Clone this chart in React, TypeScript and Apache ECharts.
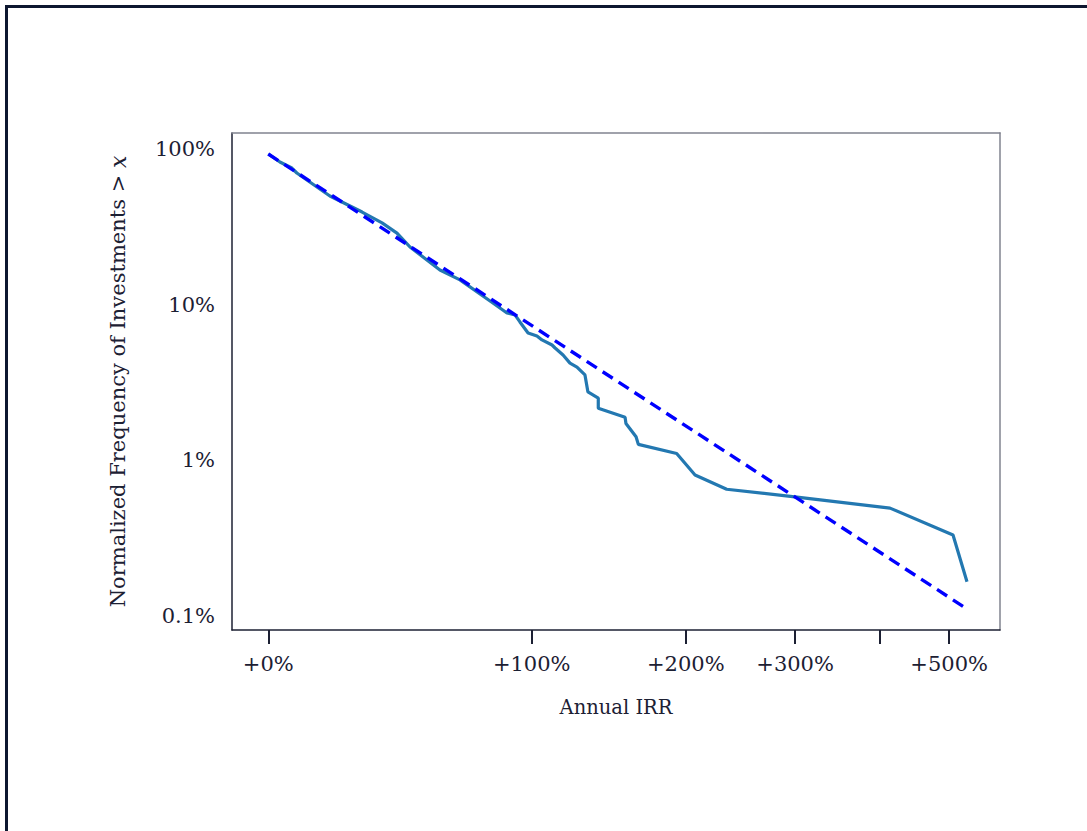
import React, { useEffect, useRef } from "react";
import * as echarts from "echarts";

// Annual IRR (%) and normalized frequency of investments exceeding it (%)
const irrPct = [0, 3.1, 6.4, 7.8, 17.6, 28.0, 34.9, 40.3, 45.2, 57.1, 65.6, 80.6, 87.4, 91.4, 93.9, 98.1, 102.8, 105.5, 111.0, 112.7, 117.2, 121.2, 125.3, 130.1, 131.9, 138.3, 138.3, 155.7, 156.3, 163.2, 164.8, 192.9, 207.4, 234.1, 302.0, 413.5, 506.1, 528.8];
const freqPct = [93.6, 83.1, 76.0, 70.6, 50.2, 39.6, 33.7, 29.0, 23.6, 16.8, 14.5, 10.3, 8.89, 8.63, 7.78, 6.61, 6.32, 5.96, 5.53, 5.29, 4.77, 4.23, 3.99, 3.55, 2.76, 2.52, 2.17, 1.90, 1.73, 1.42, 1.27, 1.11, 0.806, 0.653, 0.582, 0.494, 0.332, 0.166];

// Power-law fit (dashed)
const fitIrrPct = [0, 528.8];
const fitFreqPct = [93.5, 0.111];

// Tick positions
const xTickIrrPct = [0, 100, 200, 300, 400, 500];
const xLabelIrrPct = [0, 100, 200, 300, 500];
const yTickFreqPct = [100, 10, 1, 0.1];

const tx = (r: number) => Math.log(1 + r / 100);
const ty = (f: number) => Math.log10(f / 100);

const TEXT = "#1c2033";
const FONT = "DejaVu Serif";

export default function App() {
  const ref = useRef<HTMLDivElement>(null);
  useEffect(() => {
    if (!ref.current) return;
    const chart = echarts.init(ref.current, undefined, { renderer: "svg" });
    const xmin = -0.0955, xmax = 1.9255, ymin = -3.09, ymax = 0.106;
    const fmtPct = (v: number) => {
      const p = parseFloat((Math.pow(10, v) * 100).toPrecision(3));
      return p + "%";
    };
    chart.setOption({
      animation: false,
      backgroundColor: "#ffffff",
      graphic: [
        {
          type: "rect",
          shape: { x: 6.5, y: 6.5, width: 1200, height: 1000 },
          style: { fill: "none", stroke: "#0d1730", lineWidth: 3 },
          silent: true,
        },
      ],
      grid: { left: 232, top: 133, right: 87, bottom: 201, containLabel: false },
      xAxis: [
        {
          type: "value",
          min: xmin,
          max: xmax,
          name: "Annual IRR",
          nameLocation: "middle",
          nameGap: 67,
          nameTextStyle: { color: TEXT, fontFamily: FONT, fontSize: 19.5 },
          axisLine: { show: true, onZero: false, lineStyle: { color: TEXT, width: 1.5 } },
          axisTick: {
            show: true,
            length: 14,
            customValues: xTickIrrPct.map(tx),
            lineStyle: { color: TEXT, width: 2 },
          },
          axisLabel: {
            show: true,
            margin: 23,
            customValues: xLabelIrrPct.map(tx),
            formatter: (v: number) => "+" + Math.round((Math.exp(v) - 1) * 100) + "%",
            color: TEXT,
            fontFamily: FONT,
            fontSize: 21,
          },
          splitLine: { show: false },
        },
        {
          type: "value",
          position: "top",
          min: xmin,
          max: xmax,
          axisLine: { show: true, onZero: false, lineStyle: { color: "#80838f", width: 1.5 } },
          axisTick: { show: false },
          axisLabel: { show: false },
          splitLine: { show: false },
        },
      ],
      yAxis: [
        {
          type: "value",
          min: ymin,
          max: ymax,
          name: "Normalized Frequency of Investments > {i|x}",
          nameLocation: "middle",
          nameGap: 103,
          nameTextStyle: {
            color: TEXT,
            fontFamily: FONT,
            fontSize: 21,
            rich: { i: { fontStyle: "italic", fontFamily: FONT, fontSize: 22, color: TEXT } },
          },
          axisLine: { show: true, onZero: false, lineStyle: { color: TEXT, width: 1.5 } },
          axisTick: { show: false },
          axisLabel: {
            show: true,
            margin: 17,
            customValues: yTickFreqPct.map(ty),
            formatter: (v: number) => fmtPct(v),
            color: TEXT,
            fontFamily: FONT,
            fontSize: 21,
          },
          splitLine: { show: false },
        },
        {
          type: "value",
          position: "right",
          min: ymin,
          max: ymax,
          axisLine: { show: true, onZero: false, lineStyle: { color: "#80838f", width: 1.5 } },
          axisTick: { show: false },
          axisLabel: { show: false },
          splitLine: { show: false },
        },
      ],
      series: [
        {
          type: "line",
          name: "Empirical",
          data: irrPct.map((r, i) => [tx(r), ty(freqPct[i])]),
          showSymbol: false,
          symbol: "none",
          lineStyle: { color: "#2378b1", width: 3.2 },
          z: 2,
        },
        {
          type: "line",
          name: "Fit",
          data: fitIrrPct.map((r, i) => [tx(r), ty(fitFreqPct[i])]),
          showSymbol: false,
          symbol: "none",
          lineStyle: { color: "#0000ff", width: 3.4, type: [12, 7] },
          z: 3,
        },
      ],
    });
    return () => chart.dispose();
  }, []);
  return (
    <div
      ref={ref}
      style={{ position: "absolute", left: 0, top: 0, width: 1087, height: 831 }}
    />
  );
}
